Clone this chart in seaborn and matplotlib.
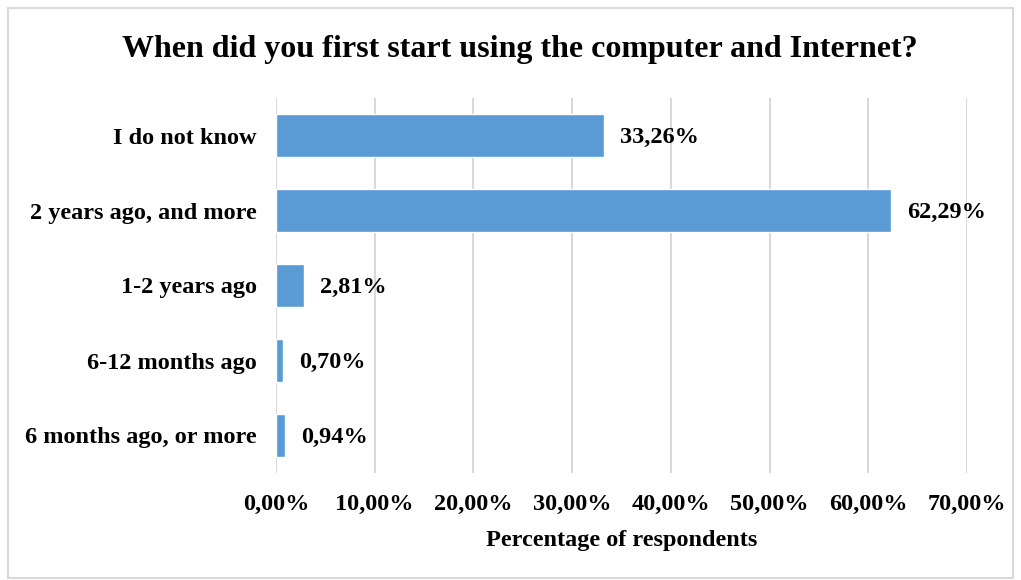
import matplotlib
matplotlib.use("Agg")
import matplotlib.pyplot as plt
import seaborn as sns
import pandas as pd
from matplotlib.patches import Rectangle
from matplotlib.ticker import FuncFormatter

# Data
categories = ["I do not know", "2 years ago, and more", "1-2 years ago",
              "6-12 months ago", "6 months ago, or more"]
values = [33.26, 62.29, 2.81, 0.70, 0.94]

df = pd.DataFrame({"category": categories, "value": values})

sns.set_theme(style="white")
plt.rcParams["font.family"] = ["Liberation Serif", "DejaVu Serif"]
plt.rcParams["font.weight"] = "bold"

fig = plt.figure(figsize=(10.21, 5.8), dpi=100)
ax = fig.add_axes([276 / 1021, 1 - 473 / 580, (967 - 276) / 1021, (473 - 98) / 580])

sns.barplot(data=df, x="value", y="category", color="#5B9BD5", saturation=1,
            width=0.57, ax=ax, zorder=2)

fs = 17.5
ax.set_xlim(0, 70)
ax.set_xticks(range(0, 71, 10))
ax.xaxis.set_major_formatter(FuncFormatter(lambda v, p: f"{v:.2f}%".replace(".", ",")))
ax.grid(axis="x", color="#D9D9D9", linewidth=1.5, zorder=0)
ax.set_axisbelow(True)
for s in ax.spines.values():
    s.set_visible(False)
ax.tick_params(axis="both", length=0)
ax.tick_params(axis="y", pad=14, labelsize=fs)
ax.tick_params(axis="x", pad=15, labelsize=fs)
for lbl in ax.get_xticklabels() + ax.get_yticklabels():
    lbl.set_fontweight("bold")
    lbl.set_color("black")

ax.set_ylabel("")
ax.set_xlabel("Percentage of respondents", fontsize=fs, fontweight="bold",
              color="black", labelpad=11)

for i, v in enumerate(values):
    ax.text(v + 1.6, i + 0.03, f"{v:.2f}%".replace(".", ","), va="center", ha="left",
            fontsize=fs, fontweight="bold", color="black", zorder=3)

fig.text(520 / 1021, 1 - 49 / 580, "When did you first start using the computer and Internet?",
         ha="center", va="center", fontsize=23, fontweight="bold", color="black")

fig.patches.append(Rectangle((8 / 1021, 2 / 580), 1005 / 1021, 570 / 580,
                             transform=fig.transFigure, fill=False,
                             edgecolor="#D9D9D9", linewidth=1.5))

plt.savefig("out.png", dpi=100)
